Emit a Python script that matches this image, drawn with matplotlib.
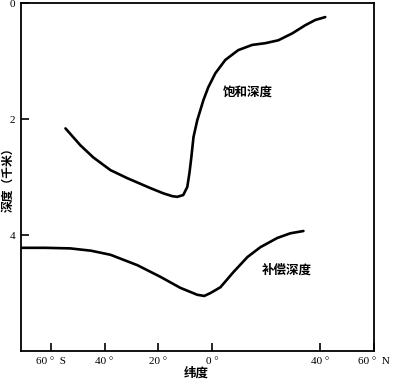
import matplotlib
matplotlib.use('Agg')
import matplotlib.pyplot as plt

plt.rcParams['font.family'] = ['Noto Sans CJK SC', 'DejaVu Sans']

# 饱和深度 曲线 (纬度, 深度 km)
sat_lat = [-54.5, -49.0, -44.2, -37.8, -31.5, -23.0, -18.2, -14.8, -13.0, -10.8,
           -9.3, -8.5, -7.8, -7.0, -5.6, -3.3, -1.5, 1.1, 4.8, 9.6,
           14.8, 19.7, 24.5, 29.7, 34.5, 38.2, 41.9]
sat_depth = [2.16, 2.45, 2.66, 2.88, 3.02, 3.19, 3.28, 3.33, 3.34, 3.31,
             3.17, 2.93, 2.66, 2.31, 2.02, 1.67, 1.45, 1.21, 0.98, 0.81,
             0.72, 0.69, 0.64, 0.52, 0.38, 0.29, 0.24]

# 补偿深度 曲线
comp_lat = [-71.0, -62.0, -52.7, -45.0, -37.8, -27.8, -19.3, -11.9, -5.6, -3.0,
            -0.7, 3.0, 7.8, 13.0, 17.8, 24.1, 28.9, 33.8]
comp_depth = [4.22, 4.22, 4.23, 4.27, 4.34, 4.52, 4.72, 4.91, 5.03, 5.05,
              5.0, 4.90, 4.64, 4.38, 4.21, 4.05, 3.97, 3.93]

xticks = [-60, -40, -20, 0, 40, 60]
xlabels = ['60 °  S', '40 °', '20 °', '0 °', '40 °', '60 °  N']
yticks = [0, 2, 4]

fig = plt.figure(figsize=(3.98, 3.81), dpi=100)
ax = fig.add_axes([0.0528, 0.0787, 0.887, 0.913])

ax.plot(sat_lat, sat_depth, color='black', lw=1.9, solid_capstyle='round', solid_joinstyle='round')
ax.plot(comp_lat, comp_depth, color='black', lw=1.9, solid_capstyle='round', solid_joinstyle='round')

ax.set_xlim(-71, 60)
ax.set_ylim(6.0, 0)

ax.set_xticks(xticks)
ax.set_xticklabels(xlabels, family=['Liberation Serif', 'DejaVu Sans'], fontsize=8)
ax.set_yticks(yticks)
ax.set_yticklabels([str(t) for t in yticks], family=['Liberation Serif'], fontsize=8)
ax.tick_params(direction='in', length=6, width=1.2, pad=4)

for s in ax.spines.values():
    s.set_linewidth(1.3)

ax.text(13, 1.53, '饱和深度', fontsize=9, fontweight='bold', ha='center', va='center')
ax.text(27.5, 4.6, '补偿深度', fontsize=9, fontweight='bold', ha='center', va='center')

# 轴标题
fig.text(8 / 398, 1 - 177 / 381, '深度（千米）', fontsize=8.5, fontweight='bold',
         rotation=90, ha='center', va='center')
fig.text(196 / 398, 1 - 373 / 381, '纬度', fontsize=9, fontweight='bold',
         ha='center', va='center')

fig.savefig('out.png', dpi=100)
